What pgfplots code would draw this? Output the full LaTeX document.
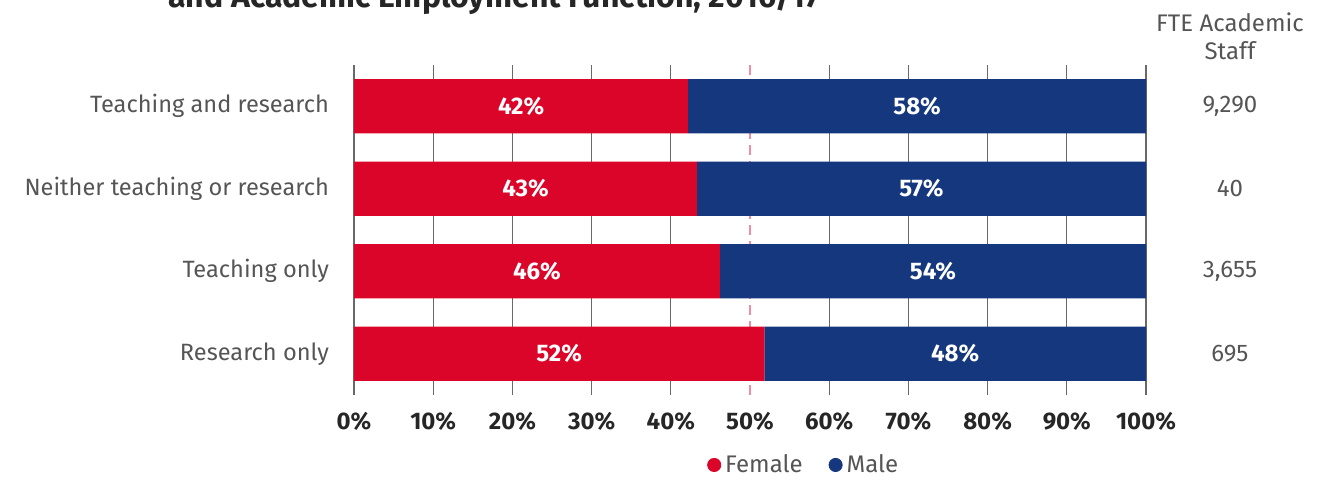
\documentclass[border=0pt]{standalone}
\usepackage{pgfplots}
\pgfplotsset{compat=1.18}
\usepackage{fontspec}
\setmainfont{Fira Sans}

\definecolor{femred}{RGB}{218,5,40}
\definecolor{maleblue}{RGB}{20,55,125}
\definecolor{labgray}{RGB}{85,85,85}
\definecolor{gridgray}{RGB}{105,105,105}
\definecolor{midpink}{RGB}{240,140,165}

\begin{document}
\begin{tikzpicture}
\begin{axis}[
    scale only axis,
    width=396pt, height=165pt,
    xbar stacked,
    bar width=0.655,
    xmin=0, xmax=100,
    ymin=-0.5, ymax=3.5,
    axis line style={draw=none},
    major tick length=0pt,
    xtick={0,10,20,30,40,60,70,80,90,100},
    extra x ticks={50},
    extra x tick style={grid style={midpink, line width=1pt, dash pattern=on 5pt off 3pt}},
    xmajorgrids,
    grid style={gridgray, line width=0.6pt},
    xticklabel={\pgfmathprintnumber{\tick}\%},
    xticklabel style={font=\fontsize{12}{14}\selectfont\bfseries, text=black!85, yshift=-5pt},
    ytick={0,1,2,3},
    yticklabels={Research only, Teaching only, Neither teaching or research, Teaching and research},
    yticklabel style={font=\fontsize{11.8}{14}\selectfont, text=labgray, xshift=-9pt},
    /pgf/number format/assume math mode=true,
    nodes near coords={\pgfmathprintnumber[fixed,precision=0]{\pgfplotspointmeta}\%},
    every node near coord/.append style={font=\fontsize{12}{14}\selectfont\bfseries, text=white},
    clip=false,
    legend style={at={(0.569,-0.212)}, anchor=center, draw=none, fill=none, legend columns=-1,
        font=\fontsize{12}{14}\selectfont, text=labgray,
        /tikz/every even column/.append style={column sep=11pt}},
]
% rows from bottom: Research only, Teaching only, Neither, Teaching and research
\addplot[fill=femred, draw=none, forget plot]
    coordinates {(51.8,0) (46.2,1) (43.3,2) (42.2,3)};
\addplot[fill=maleblue, draw=none, forget plot]
    coordinates {(48.2,0) (53.8,1) (56.7,2) (57.8,3)};
\addlegendimage{legend image code/.code={\fill[femred] (0.2cm,0) circle (3.3pt);}}
\addlegendentry{Female}
\addlegendimage{legend image code/.code={\fill[maleblue] (0.2cm,0) circle (3.3pt);}}
\addlegendentry{Male}

% FTE column
\node[font=\fontsize{12}{14}\selectfont, text=labgray, align=center]
    at (axis cs:110.6,3.85) {FTE Academic\\Staff};
\node[font=\fontsize{12}{14}\selectfont, text=labgray] at (axis cs:110.6,3) {9,290};
\node[font=\fontsize{12}{14}\selectfont, text=labgray] at (axis cs:110.6,2) {40};
\node[font=\fontsize{12}{14}\selectfont, text=labgray] at (axis cs:110.6,1) {3,655};
\node[font=\fontsize{12}{14}\selectfont, text=labgray] at (axis cs:110.6,0) {695};
\end{axis}
% title, cut by the top edge
\node[anchor=base west, inner sep=0pt, font=\fontsize{16}{18}\selectfont\bfseries, text=black!85]
    at (-93pt,194pt) {and Academic Employment Function, 2016/17};
\pgfresetboundingbox
\useasboundingbox (-177pt,-42pt) rectangle (494pt,197.5pt);
\end{tikzpicture}
\end{document}
